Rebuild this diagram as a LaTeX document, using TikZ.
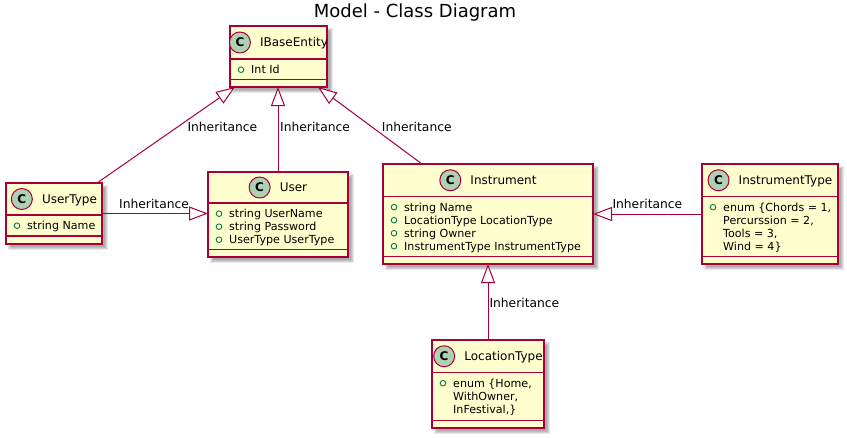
\documentclass[tikz,border=0pt]{standalone}
\usepackage{fontspec}
\setmainfont{DejaVu Sans}
\usetikzlibrary{arrows.meta,calc}
\definecolor{umlred}{HTML}{A80036}
\definecolor{umlfill}{HTML}{FEFECE}
\definecolor{umlcirc}{HTML}{ADD1B2}
\definecolor{umlgreen}{HTML}{038048}
\tikzset{
  classbox/.style={rectangle, draw=umlred, fill=umlfill, line width=1.5pt, inner sep=0pt, outer sep=0pt},
  divider/.style={draw=umlred, line width=1.5pt},
  cname/.style={inner sep=0pt, anchor=base, font=\fontsize{12}{14}\selectfont},
  cicon/.style={circle, draw=umlred, line width=1pt, fill=umlcirc, minimum size=21pt, inner sep=0pt, font=\fontsize{12}{14}\selectfont\bfseries},
  attr/.style={inner sep=0pt, anchor=base west, font=\fontsize{11.1}{13}\selectfont},
  vis/.style={draw=umlgreen, line width=0.9pt},
  inh/.style={draw=umlred, line width=1pt, -{Triangle[length=19pt,width=14pt,fill=white]}},
  lbl/.style={inner sep=0pt, anchor=base west, font=\fontsize{12.3}{14}\selectfont},
}
% id, L, R, T, H, A, B, name
\newcommand{\umlclass}[8]{%
  \foreach \k in {0,1,2,3} {\fill[black,opacity=0.09] ({#2+2+\k},{#4+2+\k}) rectangle ({#3+6-\k},{#7+6-\k});}
  \node[classbox, minimum width={(#3-#2)*1pt}, minimum height={(#7-#4)*1pt}] (#1) at ({(#2+#3)/2},{(#4+#7)/2}) {};
  \draw[divider] (#2,#5) -- (#3,#5);
  \draw[divider] (#2,#6) -- (#3,#6);
  \node[cname] (#1-n) at ({(#2+#3)/2+15.5},{(#4+#5)/2+4.3}) {#8};
  \node[cicon] (#1-c) at ($(#1-n.base west)+(-20,-4.3)$) {C};
}
\begin{document}
\begin{tikzpicture}[x=1pt,y=-1pt]
\fill[white] (0,0) rectangle (847,437);
\useasboundingbox (0,0) rectangle (847,437);

\node[inner sep=0pt, anchor=base, font=\fontsize{18}{20}\selectfont] (title) at (415,17.5) {Model - Class Diagram};

% classes
\umlclass{ibe}{230}{327}{26}{59}{79.5}{87}{IBaseEntity}
\umlclass{ut}{6}{102}{183}{215}{236}{244}{UserType}
\umlclass{us}{208}{348}{172}{203}{249.5}{257}{User}
\umlclass{inst}{383}{593}{164}{196.5}{256.5}{264}{Instrument}
\umlclass{it}{702}{838}{164}{196.5}{256.5}{264}{InstrumentType}
\umlclass{loc}{432}{544}{340}{372.5}{420.5}{428}{LocationType}

% attributes
\draw[vis] (241,69.7) circle[radius=2.8pt];
\node[attr] (ibe-a1) at (251,73.5) {Int Id};

\draw[vis] (17,225.7) circle[radius=2.8pt];
\node[attr] (ut-a1) at (27,229.5) {string Name};

\draw[vis] (219,213.7) circle[radius=2.8pt];
\node[attr] (us-a1) at (229,217.5) {string UserName};
\draw[vis] (219,226.7) circle[radius=2.8pt];
\node[attr] (us-a2) at (229,230.5) {string Password};
\draw[vis] (219,239.7) circle[radius=2.8pt];
\node[attr] (us-a3) at (229,243.5) {UserType UserType};

\draw[vis] (394,207.2) circle[radius=2.8pt];
\node[attr] (inst-a1) at (404,211) {string Name};
\draw[vis] (394,220.2) circle[radius=2.8pt];
\node[attr] (inst-a2) at (404,224) {LocationType LocationType};
\draw[vis] (394,233.2) circle[radius=2.8pt];
\node[attr] (inst-a3) at (404,237) {string Owner};
\draw[vis] (394,246.2) circle[radius=2.8pt];
\node[attr] (inst-a4) at (404,250) {InstrumentType InstrumentType};

\draw[vis] (713,207.2) circle[radius=2.8pt];
\node[attr] (it-a1) at (723,211) {enum \{Chords = 1,};
\node[attr] (it-a2) at (723,224) {Percurssion = 2,};
\node[attr] (it-a3) at (723,237) {Tools = 3,};
\node[attr] (it-a4) at (723,250) {Wind = 4\}};

\draw[vis] (443,383.2) circle[radius=2.8pt];
\node[attr] (loc-a1) at (453,387) {enum \{Home,};
\node[attr] (loc-a2) at (453,400) {WithOwner,};
\node[attr] (loc-a3) at (453,413) {InFestival,\}};

% connectors
\draw[inh] ([xshift=-5pt]ut.north east) -- ([xshift=5pt]ibe.south west);
\draw[inh] (us.north) -- (us.north |- ibe.south);
\draw[inh] ([xshift=39pt]inst.north west) -- ([xshift=-9pt]ibe.south east);
\draw[inh] (ut.east) -- (ut.east -| us.west);
\draw[inh] (it.west) -- (it.west -| inst.east);
\draw[inh] (loc.north) -- (loc.north |- inst.south);

% labels
\node[lbl] (l1) at (187.3,131.5) {Inheritance};
\node[lbl] (l2) at (280,131.5) {Inheritance};
\node[lbl] (l3) at (381.7,131.5) {Inheritance};
\node[lbl] (l4) at (119,208.3) {Inheritance};
\node[lbl] (l5) at (612.3,208.3) {Inheritance};
\node[lbl] (l6) at (489.3,307) {Inheritance};
\end{tikzpicture}
\end{document}
